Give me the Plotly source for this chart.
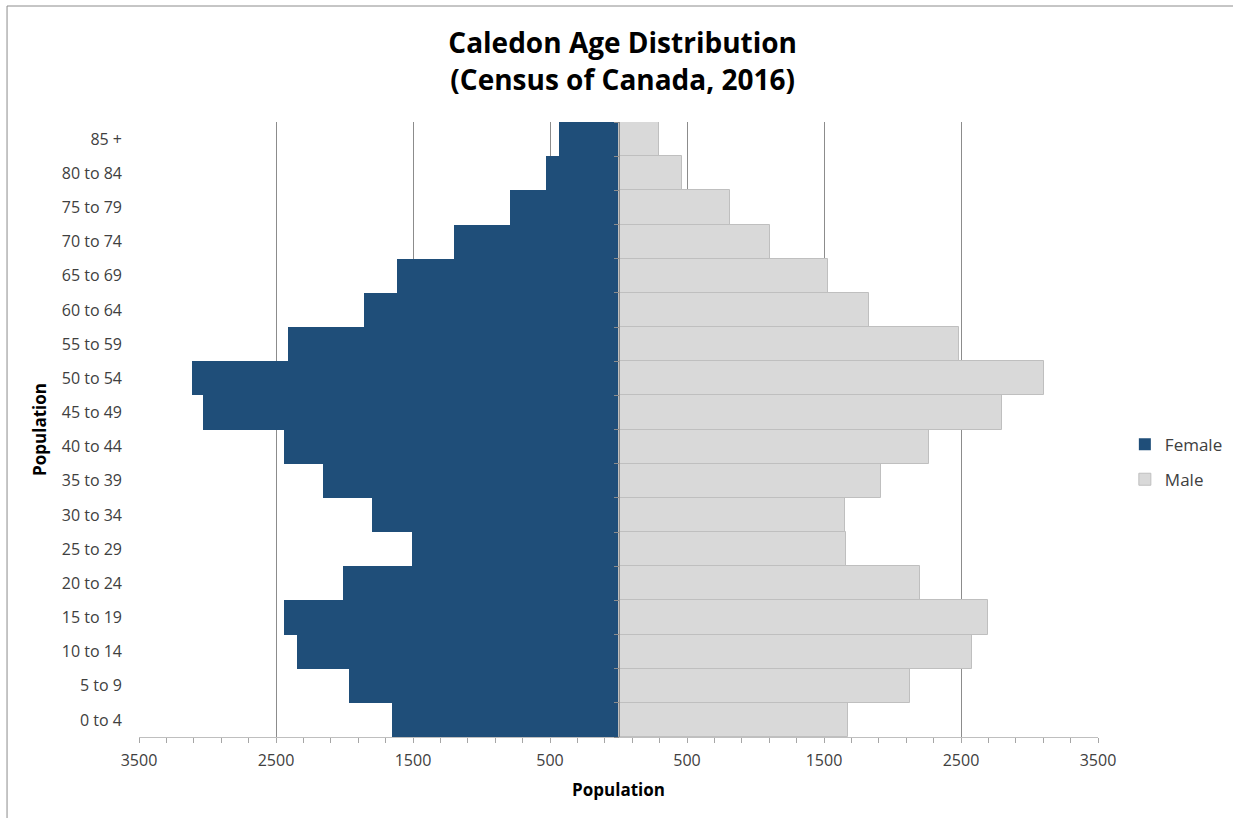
import plotly.graph_objects as go

age_groups = ["0 to 4", "5 to 9", "10 to 14", "15 to 19", "20 to 24", "25 to 29",
              "30 to 34", "35 to 39", "40 to 44", "45 to 49", "50 to 54", "55 to 59",
              "60 to 64", "65 to 69", "70 to 74", "75 to 79", "80 to 84", "85 +"]
female = [1655, 1965, 2345, 2440, 2012, 1506, 1797, 2155, 2445, 3030, 3112, 2414,
          1855, 1615, 1201, 795, 530, 437]
male = [1672, 2129, 2582, 2695, 2200, 1660, 1655, 1913, 2266, 2798, 3108, 2486,
        1830, 1527, 1105, 811, 463, 292]
tick_values = [-3500, -2500, -1500, -500, 500, 1500, 2500, 3500]
tick_labels = ["3500", "2500", "1500", "500", "500", "1500", "2500", "3500"]

FONT = "Open Sans, Noto Sans, sans-serif"
GRID = "#8C8C8C"
n = len(age_groups)

fig = go.Figure()
fig.add_trace(go.Bar(
    y=age_groups, x=[-v for v in female], orientation="h", name="Female",
    legendgroup="f",
    marker=dict(color="#1F4E79", line=dict(width=0)),
    customdata=female, hovertemplate="%{y}: %{customdata}<extra>Female</extra>"))
fig.add_trace(go.Bar(
    y=age_groups, x=male, orientation="h", name="Male", legendgroup="m",
    marker=dict(color="#D9D9D9", line=dict(color="#BFBFBF", width=1)),
    hovertemplate="%{y}: %{x}<extra>Male</extra>"))
# invisible helper trace so the central category axis (at zero) draws
fig.add_trace(go.Scatter(
    y=age_groups, x=[0] * n, yaxis="y2", mode="markers",
    marker=dict(opacity=0), showlegend=False, hoverinfo="skip"))

fig.update_layout(
    width=1233, height=818,
    paper_bgcolor="white", plot_bgcolor="white",
    margin=dict(l=139, r=135, t=122, b=81, autoexpand=False),
    barmode="overlay", bargap=0,
    title=dict(text="<b>Caledon Age Distribution<br>(Census of Canada, 2016)</b>",
               x=0.505, xref="container", y=0.935, yref="container", yanchor="top",
               font=dict(family=FONT, size=28, color="black")),
    font=dict(family=FONT, color="#404040"),
    xaxis=dict(range=[-3500, 3500], tickvals=tick_values, ticktext=tick_labels,
               automargin=False,
               showgrid=True, gridcolor=GRID, gridwidth=1, zeroline=False,
               showline=True, linecolor="#BFBFBF", linewidth=1,
               ticks="outside", ticklen=5, tickcolor="#A6A6A6",
               minor=dict(dtick=200, tick0=-3500, ticks="outside", ticklen=5,
                          tickcolor="#A6A6A6", showgrid=False),
               tickfont=dict(size=16, color="#404040"), ticklabelstandoff=4,
               title=dict(text="<b>Population</b>", font=dict(size=17, color="black"),
                          standoff=13)),
    yaxis=dict(type="category", categoryorder="array", categoryarray=age_groups,
               range=[-0.5, n - 0.5], automargin=False,
               showgrid=False, showline=False, ticks="", zeroline=False,
               tickfont=dict(size=16, color="#404040"), ticklabelstandoff=16,
               title=dict(text="<b>Population</b>", font=dict(size=17, color="black"),
                          standoff=10)),
    yaxis2=dict(type="category", categoryorder="array", categoryarray=age_groups,
                overlaying="y", matches="y", anchor="free", position=0.5,
                automargin=False,
                showline=True, linecolor="#8C8C8C", linewidth=1,
                ticks="outside", tickson="boundaries", ticklen=5, tickcolor="#8C8C8C",
                showticklabels=False, showgrid=False, zeroline=False),
    legend=dict(x=1.028, y=0.447, xanchor="left", yanchor="middle",
                bgcolor="rgba(0,0,0,0)",
                font=dict(size=17, color="#404040"), traceorder="grouped",
                itemwidth=30, tracegroupgap=10),
    shapes=[dict(type="rect", xref="paper", yref="paper",
                 x0=-0.1376, x1=1.148, y0=-0.143, y1=1.1886,
                 line=dict(color="#8C8C8C", width=1), fillcolor="rgba(0,0,0,0)",
                 layer="below")],
)

fig.write_html("out.html", config={"displayModeBar": False},
               post_script="document.body.style.margin='0';")
